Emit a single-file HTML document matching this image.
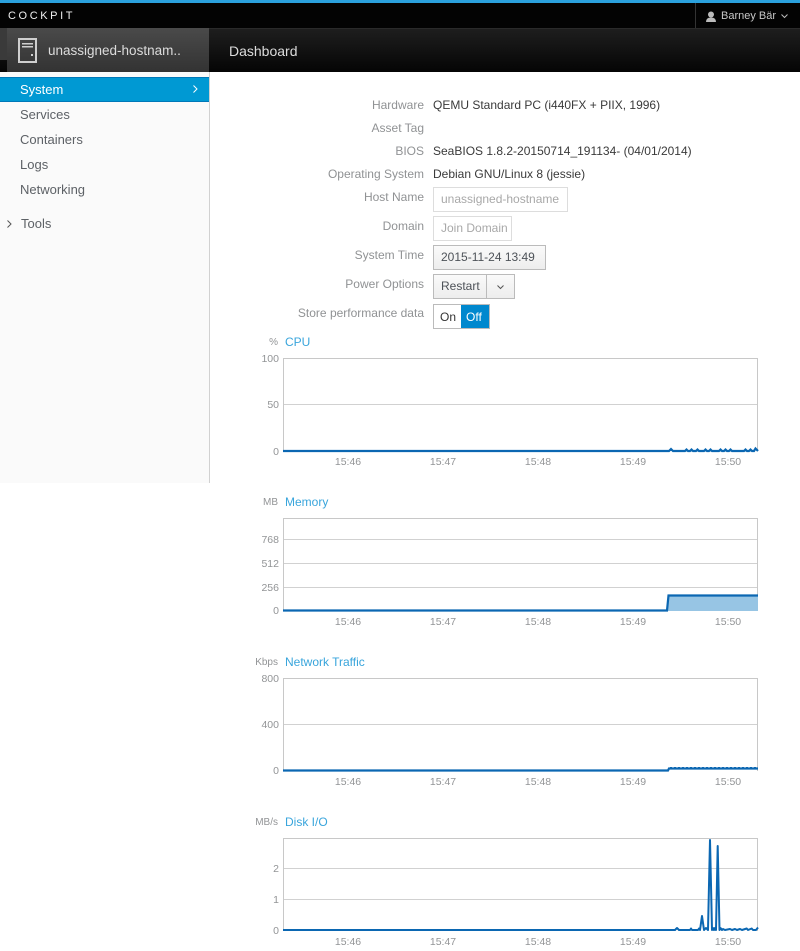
<!DOCTYPE html>
<html><head><meta charset="utf-8">
<style>
*{margin:0;padding:0;box-sizing:border-box}
body{width:800px;height:951px;background:#fff;font-family:"Liberation Sans",sans-serif;position:relative;overflow:hidden}
.abs{position:absolute}
.top{left:0;top:0;width:800px;height:28px;background:#030303;border-top:3px solid #2ba1dd}
.bar2{left:0;top:28px;width:800px;height:44px;background:linear-gradient(#1e1e1e,#050505);border-top:1px solid #2a2a2a}
.host{left:7px;top:28px;width:202px;height:44px;background:linear-gradient(#4a4a4a,#333);}
.side{left:0;top:72px;width:210px;height:411px;background:#fafafa;border-right:1px solid #d1d1d1}
.nav{position:absolute;left:20px;font-size:13px;color:#5d6166}
.lbl{position:absolute;right:376px;font-size:12px;color:#909294;white-space:nowrap}
.val{position:absolute;left:433px;font-size:12px;color:#3a3a3a;white-space:nowrap}
.btn{position:absolute;left:433px;height:25px;font-size:12px;line-height:23px;padding-left:7px;white-space:nowrap;border:1px solid #bbb;background:linear-gradient(#fafafa,#ededed);color:#4d5258}
.dis{border-color:#ddd;background:#fff;color:#a8a8a8}
</style></head><body>
<div class="abs top"></div>
<div class="abs" style="left:8px;top:10px;font-size:11px;color:#f0f0f0;letter-spacing:2.6px">COCKPIT</div>
<div class="abs" style="left:695px;top:3px;width:1px;height:25px;background:#333"></div>
<svg class="abs" style="left:705px;top:11px" width="12" height="12"><circle cx="6" cy="3.5" r="3" fill="#bbb"/><path d="M1 11 Q1 6.5 6 6.5 Q11 6.5 11 11 Z" fill="#bbb"/></svg>
<div class="abs" style="left:721px;top:10px;font-size:11px;color:#c8c8c8">Barney Bär</div>
<svg class="abs" style="left:781px;top:14px" width="7" height="5"><path d="M0.5 0.5 L3.5 3.5 L6.5 0.5" stroke="#bbb" fill="none"/></svg>
<div class="abs bar2"></div>
<div class="abs" style="left:0;top:28px;width:7px;height:32px;background:#3a3a3a"></div>
<div class="abs host"></div>
<svg class="abs" style="left:18px;top:38px" width="19" height="25"><rect x="1" y="1" width="17" height="23" fill="none" stroke="#cfcfcf" stroke-width="2"/><rect x="4" y="5" width="11" height="1.5" fill="#cfcfcf"/><rect x="4" y="8" width="11" height="1.5" fill="#cfcfcf"/><rect x="13" y="16" width="2" height="2" fill="#cfcfcf"/></svg>
<div class="abs" style="left:48px;top:43px;font-size:13.5px;color:#dcdcdc">unassigned-hostnam..</div>
<div class="abs" style="left:229px;top:43px;font-size:14px;color:#dcdcdc">Dashboard</div>

<div class="abs side">
  <div style="position:absolute;left:0;top:5px;width:209px;height:25px;background:#0099d3;border-top:1px solid #0078b8;border-bottom:1px solid #0078b8"></div>
  <div class="nav" style="top:10px;color:#fff">System</div>
  <svg style="position:absolute;left:193px;top:13px" width="5" height="8"><path d="M0.5 0.5 L4 4 L0.5 7.5" stroke="#fff" fill="none"/></svg>
  <div class="nav" style="top:35px">Services</div>
  <div class="nav" style="top:60px">Containers</div>
  <div class="nav" style="top:85px">Logs</div>
  <div class="nav" style="top:110px">Networking</div>
  <svg style="position:absolute;left:7px;top:148px" width="5" height="8"><path d="M0.5 0.5 L4 4 L0.5 7.5" stroke="#555" fill="none"/></svg>
  <div class="nav" style="top:144px;left:21px">Tools</div>
</div>

<div class="lbl" style="top:98px">Hardware</div><div class="val" style="top:98px">QEMU Standard PC (i440FX + PIIX, 1996)</div>
<div class="lbl" style="top:121px">Asset Tag</div>
<div class="lbl" style="top:144px">BIOS</div><div class="val" style="top:144px">SeaBIOS 1.8.2-20150714_191134- (04/01/2014)</div>
<div class="lbl" style="top:167px">Operating System</div><div class="val" style="top:167px">Debian GNU/Linux 8 (jessie)</div>
<div class="lbl" style="top:190px">Host Name</div><div class="btn dis" style="top:187px;width:135px">unassigned-hostname</div>
<div class="lbl" style="top:219px">Domain</div><div class="btn dis" style="top:216px;width:79px">Join Domain</div>
<div class="lbl" style="top:248px">System Time</div><div class="btn" style="top:245px;width:113px">2015-11-24 13:49</div>
<div class="lbl" style="top:277px">Power Options</div><div class="btn" style="top:274px;width:54px">Restart</div>
<div class="btn" style="top:274px;left:487px;width:28px;border-left:none"></div>
<svg class="abs" style="left:497px;top:285px" width="7" height="5"><path d="M0.5 0.5 L3.5 3.5 L6.5 0.5" stroke="#555" fill="none"/></svg>
<div class="lbl" style="top:306px">Store performance data</div>
<div class="abs" style="left:433px;top:304px;width:57px;height:25px;border:1px solid #bbb;background:#fff"></div>
<div class="abs" style="left:461px;top:305px;width:28px;height:23px;background:#0088ce"></div>
<div class="abs" style="left:440px;top:310px;font-size:12px;color:#333">On</div>
<div class="abs" style="left:466px;top:310px;font-size:12px;color:#fff">Off</div>

<svg class="abs" style="left:0;top:0" width="800" height="951" font-family="Liberation Sans, sans-serif">
<g font-size="10.5" fill="#929496" text-anchor="end">
<!-- CPU -->
<text x="278" y="345" font-size="10">%</text>
<text x="285" y="346" fill="#39a5dc" font-size="12" text-anchor="start">CPU</text>
<line x1="283" y1="404.5" x2="758" y2="404.5" stroke="#d1d1d1"/>
<path d="M283.5 451 V358.5 H757.5 V451" fill="none" stroke="#c8c8c8"/>
<text x="279" y="362">100</text><text x="279" y="408">50</text><text x="279" y="455">0</text>
<polyline fill="none" stroke="#0b67b2" stroke-width="2.2" points="283,451 669,451 671,449 673,451 685,451 686.5,449.5 688,451 690,451 691.5,449.5 693,451 696,451 697.5,449.5 699,451 704,451 705.5,449.5 707,451 709,451 710.5,449.5 712,451 719,451 720.5,449.5 722,451 724,451 725.5,449.5 727,451 729,451 730.5,449.5 732,451 744,451 745.5,449.5 747,451 749,451 750.5,449.5 752,451 754,451 755.5,448.5 758,451"/>
<!-- Memory -->
<text x="278" y="505" font-size="10">MB</text>
<text x="285" y="506" fill="#39a5dc" font-size="12" text-anchor="start">Memory</text>
<line x1="283" y1="539.5" x2="758" y2="539.5" stroke="#d1d1d1"/>
<line x1="283" y1="563.5" x2="758" y2="563.5" stroke="#d1d1d1"/>
<line x1="283" y1="587.5" x2="758" y2="587.5" stroke="#d1d1d1"/>
<path d="M283.5 611 V518.5 H757.5 V611" fill="none" stroke="#c8c8c8"/>
<text x="279" y="543">768</text><text x="279" y="567">512</text><text x="279" y="591">256</text><text x="279" y="614">0</text>
<path d="M667 611 L668.5 595.5 L758 595.5 L758 611 Z" fill="#97c5e4"/>
<polyline fill="none" stroke="#0b67b2" stroke-width="2.2" points="283,610.5 667,610.5 668.5,595.5 758,595.5"/>
<!-- Network -->
<text x="278" y="665" font-size="10">Kbps</text>
<text x="285" y="666" fill="#39a5dc" font-size="12" text-anchor="start">Network Traffic</text>
<line x1="283" y1="724.5" x2="758" y2="724.5" stroke="#d1d1d1"/>
<path d="M283.5 771 V678.5 H757.5 V771" fill="none" stroke="#c8c8c8"/>
<text x="279" y="682">800</text><text x="279" y="728">400</text><text x="279" y="774">0</text>
<polyline fill="none" stroke="#0b67b2" stroke-width="2.2" points="283,770.5 668,770.5 669,768.5 758,768.5"/>
<polyline fill="none" stroke="#0b67b2" stroke-width="1" stroke-dasharray="2 2" points="670,767.5 757,767.5"/>
<!-- Disk -->
<text x="278" y="825" font-size="10">MB/s</text>
<text x="285" y="826" fill="#39a5dc" font-size="12" text-anchor="start">Disk I/O</text>
<line x1="283" y1="868.5" x2="758" y2="868.5" stroke="#d1d1d1"/>
<line x1="283" y1="899.5" x2="758" y2="899.5" stroke="#d1d1d1"/>
<path d="M283.5 931 V838.5 H757.5 V931" fill="none" stroke="#c8c8c8"/>
<text x="279" y="872">2</text><text x="279" y="903">1</text><text x="279" y="934">0</text>
<polyline fill="none" stroke="#0b67b2" stroke-width="2" stroke-linejoin="round" points="283,930 675,930 677,928 679,930 690,930 691,928.5 692,930 698,930 699,928.5 700,930 702,916 704,930 706,928 708,930 710,840 712,930 713,928 714,930 715,928 716,930 717.7,846 719.5,930 720.5,928 722,930 723,929 725,930 730,929 732,930 735,929 737,930 740,929 742,930 746.7,928.5 748,930 751.7,928.5 753,930 756,930 758,927.5"/>
</g>
<g font-size="10.5" fill="#929496" text-anchor="middle">
<text x="348" y="465">15:46</text><text x="443" y="465">15:47</text><text x="538" y="465">15:48</text><text x="633" y="465">15:49</text><text x="728" y="465">15:50</text>
<text x="348" y="625">15:46</text><text x="443" y="625">15:47</text><text x="538" y="625">15:48</text><text x="633" y="625">15:49</text><text x="728" y="625">15:50</text>
<text x="348" y="785">15:46</text><text x="443" y="785">15:47</text><text x="538" y="785">15:48</text><text x="633" y="785">15:49</text><text x="728" y="785">15:50</text>
<text x="348" y="945">15:46</text><text x="443" y="945">15:47</text><text x="538" y="945">15:48</text><text x="633" y="945">15:49</text><text x="728" y="945">15:50</text>
</g>
</svg>
</body></html>
